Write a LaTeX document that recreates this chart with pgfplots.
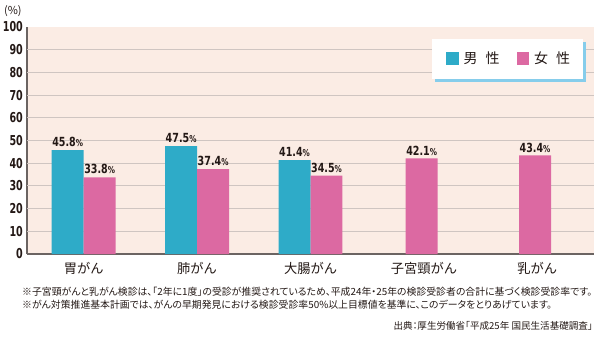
\documentclass[border=0pt]{standalone}
\usepackage{pgfplots}
\pgfplotsset{compat=1.18}
\usepackage{fontspec}
\setmainfont{Noto Sans CJK JP}
\newfontfamily\jp{Noto Sans CJK JP}[RawFeature=+palt]
\newfontfamily\jpw{Noto Sans CJK JP}
\newfontfamily\numA{DejaVu Sans}[FakeStretch=0.7]
\newfontfamily\numB{DejaVu Sans}[FakeStretch=0.76]
\definecolor{male}{HTML}{2EABC8}
\definecolor{female}{HTML}{DC69A2}
\definecolor{bg}{HTML}{FBECE4}
\definecolor{gridc}{HTML}{CFC5C1}
\definecolor{ax}{HTML}{6B6462}
\definecolor{txt}{HTML}{231815}
\definecolor{shadowblue}{HTML}{86CDEB}
\newcommand{\lbl}[1]{{\numB\bfseries\fontsize{12.6}{12.6}\selectfont #1{\fontsize{9.5}{9.5}\selectfont\%}}}
\begin{document}
\begin{tikzpicture}[x=1bp,y=1bp]
\useasboundingbox (0,0) rectangle (600,360);
\begin{axis}[
  at={(27bp,106bp)}, anchor=south west,
  scale only axis, width=567bp, height=227bp,
  xmin=-0.5, xmax=4.5, ymin=0, ymax=100,
  axis background/.style={fill=bg},
  axis x line*=bottom, axis y line*=left,
  axis line style={draw=ax, line width=1.1bp},
  /pgf/number format/assume math mode=true,
  ytick={0,10,...,100},
  ytick style={draw=none},
  yticklabel style={font=\numA\bfseries\fontsize{13.7}{13.7}\selectfont, text=txt, anchor=east, inner sep=0pt, xshift=-4bp},
  extra y ticks={10,20,...,90}, extra y tick labels={},
  extra y tick style={grid=major, major grid style={draw=gridc, line width=0.9bp}, tick style={draw=none}},
  xtick={0,1,2,3,4},
  xticklabels={胃がん,肺がん,大腸がん,子宮頸がん,乳がん},
  xtick style={draw=none},
  xticklabel style={font=\jpw\fontsize{13.3}{13.3}\selectfont, text=txt, anchor=north, inner sep=0pt, yshift=-8bp},
  extra x ticks={-0.5,0.5,1.5,2.5,3.5}, extra x tick labels={},
  extra x tick style={tick style={draw=ax, line width=0.9bp}, major tick length=4bp, tick align=outside},
  bar width=0.282,
  point meta=explicit symbolic,
  nodes near coords={\lbl{\pgfplotspointmeta}},
  every node near coord/.append style={text=txt, anchor=south, inner sep=0pt, yshift=3bp},
  legend columns=2,
  legend style={at={(0.7390,0.8612)}, anchor=west, draw=none, fill=none,
    inner sep=0pt, nodes={inner sep=0pt},
    font=\jpw\fontsize{14}{14}\selectfont, text=txt,
    /tikz/every odd column/.append style={column sep=5bp},
    /tikz/every even column/.append style={column sep=17bp}},
]
\addplot[ybar, bar shift=0pt, fill=male, draw=none,
  legend image code/.code={\fill[male] (0bp,-6.5bp) rectangle (12.5bp,6.5bp);}]
  coordinates {(-0.141,45.8) [45.8] (0.859,47.5) [47.5] (1.859,41.4) [41.4]};
\addlegendentry{男\hspace{8bp}性}
\addplot[ybar, bar shift=0pt, fill=female, draw=none,
  legend image code/.code={\fill[female] (0bp,-6.5bp) rectangle (12.5bp,6.5bp);}]
  coordinates {(0.141,33.8) [33.8] (1.141,37.4) [37.4] (2.141,34.5) [34.5] (2.98,42.1) [42.1] (3.98,43.4) [43.4]};
\addlegendentry{女\hspace{8bp}性}
\fill[shadowblue] (rel axis cs:0.7187,0.7599) rectangle (rel axis cs:0.9850,0.9361);
\fill[white] (rel axis cs:0.7143,0.7709) rectangle (rel axis cs:0.9806,0.9471);
\end{axis}
\node[anchor=base west, inner sep=0pt, text=txt, font=\jpw\fontsize{11}{11}\selectfont] at (4,346) {(\%)};
\node[anchor=base west, inner sep=0pt, text=txt, font=\jp\fontsize{9.9}{9.9}\selectfont] at (22,65) {※子宮頸がんと乳がん検診は、「2年に1度」の受診が推奨されているため、平成24年・25年の検診受診者の合計に基づく検診受診率です。};
\node[anchor=base west, inner sep=0pt, text=txt, font=\jp\fontsize{9.9}{9.9}\selectfont] at (22,52) {※がん対策推進基本計画では、がんの早期発見における検診受診率50\%以上目標値を基準に、このデータをとりあげています。};
\node[anchor=base east, inner sep=0pt, text=txt, font=\jp\fontsize{9.6}{9.6}\selectfont] at (593,31) {出典：厚生労働省「平成25年 国民生活基礎調査」};
\end{tikzpicture}
\end{document}
